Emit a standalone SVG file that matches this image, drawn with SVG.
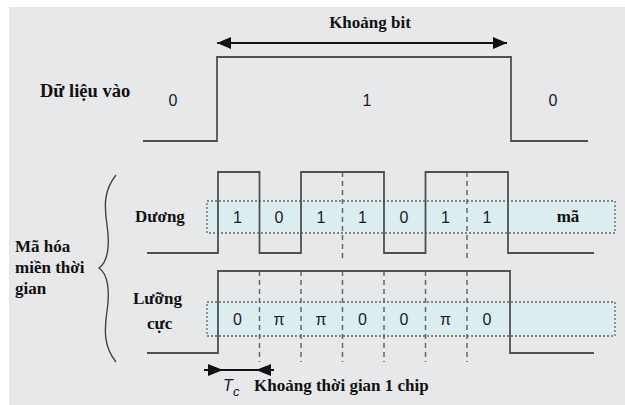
<svg xmlns="http://www.w3.org/2000/svg" width="625" height="405" viewBox="0 0 625 405">
<style>
.lbl{font-family:"Liberation Serif","Times New Roman",serif;font-weight:bold;font-size:17px;fill:#111}
.num{font-family:"Liberation Sans",Arial,sans-serif;font-size:16px;fill:#1a1a2a;text-anchor:middle}
.wave{fill:none;stroke:#505050;stroke-width:1.8}
.dash{fill:none;stroke:#666;stroke-width:1.5;stroke-dasharray:5,4}
.box{fill:#dcedf0;stroke:#666;stroke-width:1.3;stroke-dasharray:2,2}
</style>
<defs>
<marker id="ah" viewBox="0 0 14 12" refX="14" refY="6" markerWidth="14" markerHeight="12" markerUnits="userSpaceOnUse" orient="auto-start-reverse">
<path d="M0,0 L14,6 L0,12 Z" fill="#111"/>
</marker>
</defs>
<rect x="9" y="7" width="616" height="398" fill="#e7e8ea"/>

<g id="title">
<text class="lbl" x="370" y="28" text-anchor="middle">Khoảng bit</text>
</g>

<g id="connectors">
<line x1="217" y1="43" x2="507" y2="43" stroke="#111" stroke-width="1.8" marker-start="url(#ah)" marker-end="url(#ah)"/>
<line x1="204" y1="370" x2="274" y2="370" stroke="#111" stroke-width="1.8"/>
<path d="M208,364 L223,370 L208,376 Z" fill="#111"/>
<path d="M271,364 L256,370 L271,376 Z" fill="#111"/>
</g>

<g id="data">
<text class="lbl" x="40" y="97" style="font-size:18.5px">Dữ liệu vào</text>
<path class="wave" d="M143,141 H217 V57 H511 V141 H588"/>
<text class="num" x="173" y="106">0</text>
<text class="num" x="367" y="106">1</text>
<text class="num" x="553" y="106">0</text>
</g>

<g id="group-label">
<path d="M116,175 C104,190 104,205 107,225 C110,245 108,262 99,268 C108,274 110,291 107,311 C104,331 104,347 116,362" fill="none" stroke="#444" stroke-width="1.4"/>
<text class="lbl" x="15" y="252">Mã hóa</text>
<text class="lbl" x="15" y="273">miền thời</text>
<text class="lbl" x="15" y="294">gian</text>
</g>

<g id="duong">
<rect class="box" x="207" y="201" width="408" height="32"/>
<path class="dash" d="M342.5,172 V262 M467,172 V262"/>
<path class="wave" d="M147,253 H218 V172 H259.5 V253 H301 V172 H384 V253 H425.5 V172 H508 V253 H594"/>
<text class="lbl" x="135" y="222">Dương</text>
<text class="num" x="237.5" y="223">1</text>
<text class="num" x="279" y="223">0</text>
<text class="num" x="321" y="223">1</text>
<text class="num" x="362.5" y="223">1</text>
<text class="num" x="404" y="223">0</text>
<text class="num" x="445.5" y="223">1</text>
<text class="num" x="487" y="223">1</text>
<text class="lbl" x="568" y="222" text-anchor="middle">mã</text>
</g>

<g id="luongcuc">
<rect class="box" x="207" y="302" width="408" height="34"/>
<path class="dash" d="M259.5,271 V362 M301,271 V362 M342.5,271 V362 M384,271 V362 M425.5,271 V362 M467,271 V362"/>
<path class="wave" d="M147,353 H218 V271 H510 V353 H594"/>
<text class="lbl" x="133" y="304">Lưỡng</text>
<text class="lbl" x="147" y="329">cực</text>
<text class="num" x="237.5" y="325">0</text>
<text class="num" x="279" y="325">π</text>
<text class="num" x="321" y="325">π</text>
<text class="num" x="362.5" y="325">0</text>
<text class="num" x="404" y="325">0</text>
<text class="num" x="445.5" y="325">π</text>
<text class="num" x="487" y="325">0</text>
</g>

<g id="chip">
<text x="223" y="391" font-family="Liberation Sans,Arial,sans-serif" font-style="italic" font-size="16" fill="#1a1a2a">T</text>
<text x="233" y="396" font-family="Liberation Sans,Arial,sans-serif" font-style="italic" font-size="13" fill="#1a1a2a">c</text>
<text class="lbl" x="254" y="391">Khoảng thời gian 1 chip</text>
</g>
</svg>
